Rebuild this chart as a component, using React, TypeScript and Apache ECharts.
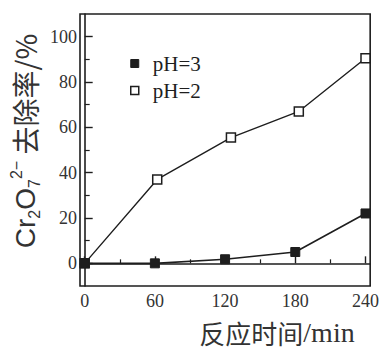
import React, { useEffect, useRef } from "react";
import * as echarts from "echarts";

const xTickLabels = [0, 60, 120, 180, 240];
const xMinorTicks = [30, 90, 150, 210];
const yTickLabels = [0, 20, 40, 60, 80, 100];
const yMinorTicks = [10, 30, 50, 70, 90];

const seriesNames = ["pH=3", "pH=2"];
const ph3Time = [0, 60, 120, 180, 240];
const ph3Removal = [0, 0, 1.8, 5, 22];
const ph2Time = [0, 62, 125, 183, 240];
const ph2Removal = [0, 37, 55.5, 67, 90.5];

const INK = "#1e1e1e";
const serif = "Liberation Serif, Times New Roman, serif";
const sans = "Liberation Sans, Arial, sans-serif";
const cjk = "Noto Sans CJK SC";

export default function App() {
  const ref = useRef<HTMLDivElement>(null);
  useEffect(() => {
    if (!ref.current) return;
    const chart = echarts.init(ref.current, null, { renderer: "svg" });
    const axisCommon = {
      axisLine: { show: true, lineStyle: { color: INK, width: 1.6 } },
      splitLine: { show: false },
    };
    chart.setOption({
      animation: false,
      backgroundColor: "#fff",
      textStyle: { fontFamily: serif },
      grid: {
        left: 80,
        right: 9,
        top: 14,
        bottom: 63,
        show: true,
        borderColor: INK,
        borderWidth: 1.6,
        backgroundColor: "transparent",
      },
      legend: {
        orient: "vertical",
        left: 125,
        top: 48,
        itemWidth: 8,
        itemHeight: 8,
        itemGap: 6,
        textStyle: { fontFamily: serif, fontSize: 21, color: INK, padding: [0, 0, 0, 9] },
        data: [
          { name: seriesNames[0], icon: "rect", itemStyle: { color: INK, borderColor: INK, borderWidth: 1 } },
          { name: seriesNames[1], icon: "rect", itemStyle: { color: "#fff", borderColor: INK, borderWidth: 1.5 } },
        ],
      },
      xAxis: [
        {
          type: "value",
          min: -4,
          max: 244,
          ...axisCommon,
          axisTick: { show: true, inside: true, length: 7, customValues: xTickLabels, lineStyle: { color: INK, width: 1.4 } },
          axisLabel: {
            customValues: xTickLabels,
            margin: 6,
            fontFamily: serif,
            fontSize: 18,
            color: "#333",
          },
        },
        {
          type: "value",
          min: -4,
          max: 244,
          position: "bottom",
          axisLine: { show: false },
          splitLine: { show: false },
          axisTick: { show: true, inside: true, length: 4, customValues: xMinorTicks, lineStyle: { color: INK, width: 1.2 } },
          axisLabel: { show: false },
        },
      ],
      yAxis: [
        {
          type: "value",
          min: -10,
          max: 110,
          ...axisCommon,
          axisTick: { show: true, inside: true, length: 8, customValues: yTickLabels, lineStyle: { color: INK, width: 1.4 } },
          axisLabel: {
            customValues: yTickLabels,
            margin: 3,
            fontFamily: serif,
            fontSize: 18,
            color: "#333",
          },
        },
        {
          type: "value",
          min: -10,
          max: 110,
          position: "left",
          axisLine: { show: false },
          splitLine: { show: false },
          axisTick: { show: true, inside: true, length: 5, customValues: yMinorTicks, lineStyle: { color: INK, width: 1.2 } },
          axisLabel: { show: false },
        },
      ],
      series: [
        {
          name: seriesNames[0],
          type: "line",
          data: ph3Time.map((t, i) => [t, ph3Removal[i]]),
          symbol: "rect",
          symbolSize: 9,
          lineStyle: { color: INK, width: 1.6 },
          itemStyle: { color: INK, borderColor: INK, borderWidth: 1 },
          z: 3,
        },
        {
          name: seriesNames[1],
          type: "line",
          data: ph2Time.map((t, i) => [t, ph2Removal[i]]),
          symbol: "rect",
          symbolSize: 9,
          lineStyle: { color: INK, width: 1.4 },
          itemStyle: { color: "#fff", borderColor: INK, borderWidth: 1.5 },
          z: 2,
        },
      ],
      graphic: [
        {
          type: "text",
          x: 25,
          y: 141,
          rotation: Math.PI / 2,
          style: {
            text: "{a|Cr}{s|2}{a|O}{s|7}{p|2−}{b| 去除率/%}",
            align: "center",
            verticalAlign: "middle",
            fill: INK,
            rich: {
              a: { fontFamily: sans, fontSize: 28, lineHeight: 34, verticalAlign: "middle", fill: "#333" },
              s: { fontFamily: sans, fontSize: 16, lineHeight: 14, verticalAlign: "bottom", fill: "#333" },
              p: { fontFamily: sans, fontSize: 16, lineHeight: 14, verticalAlign: "top", fill: "#333" },
              b: { fontFamily: cjk, fontSize: 28, lineHeight: 34, verticalAlign: "middle", fill: "#333" },
            },
          },
        },
        {
          type: "text",
          x: 277,
          y: 332,
          style: {
            text: "{c|反应时间}{m|/min}",
            align: "center",
            verticalAlign: "middle",
            rich: {
              c: { fontFamily: cjk, fontSize: 26, lineHeight: 28, fill: "#333" },
              m: { fontFamily: serif, fontSize: 28, lineHeight: 28, fill: "#333" },
            },
          },
        },
      ],
    });
    return () => chart.dispose();
  }, []);
  return <div ref={ref} style={{ width: 382, height: 349, position: "absolute", left: 0, top: 0 }} />;
}
